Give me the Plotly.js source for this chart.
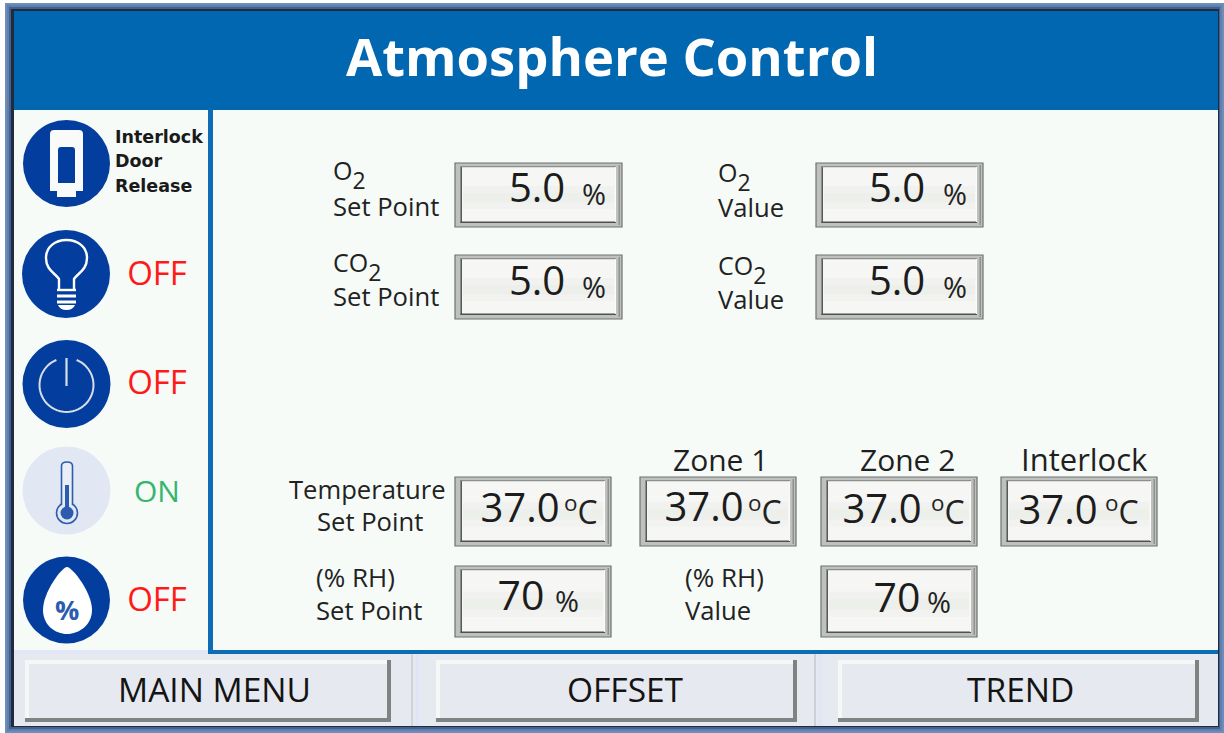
<!DOCTYPE html>
<html>
<head>
<meta charset="utf-8">
<script src="https://cdn.plot.ly/plotly-3.0.1.min.js"></script>
<style>html,body{margin:0;padding:0;background:#fff;overflow:hidden}#chart{width:1224px;height:733px}</style>
</head>
<body>
<div id="chart"></div>
<script>
// ---- content ----
const screenTitle = 'Atmosphere Control';
const readoutValues = ['5.0','5.0','5.0','5.0','37.0','37.0','37.0','37.0','70','70'];
const readoutUnits  = ['%','%','%','%','<sup>o</sup>C','<sup>o</sup>C','<sup>o</sup>C','<sup>o</sup>C','%','%'];
const statusTexts  = ['OFF','OFF','ON','OFF'];
const statusColors = ['#ff1a1a','#ff1a1a','#35b56e','#ff1a1a'];
const buttonLabels = ['MAIN MENU','OFFSET','TREND'];
const zoneLabels   = ['Zone 1','Zone 2','Interlock'];
const doorLines    = ['Interlock','Door','Release'];

// ---- layout geometry (screen pixels) ----
const boxes = [[455,622,163,227],[816,983,163,227],[455,622,255,319],[816,983,255,319],
  [455,611,477,546],[640,796,477,546],[821,977,477,546],[1001,1157,477,546],[455,611,566,637],[821,977,566,637]];
const valuePos = [[537,192],[897,192],[537,285],[897,285],[520,512],[704,511],[882,513],[1058,514],[521,600],[897,602]];
const unitPos  = [[594,193],[955,193],[594,286],[955,286],[581,510],[765,510],[948,510],[1122,510],[567,600],[939,601]];
const valueSize = [40,40,40,40,40,40,40,40,41,41];
const unitSize  = [29,29,29,29,32,32,32,32,29,29];
const statusPos = [277,386,494,603];
const statusSize = [33,33,30,33];
const buttonBoxes = [[25,391],[436,797],[838,1199]];
const zoneX = [720,907,1084];
const doorY = [137,161,186];

const shapes = [];
function rect(x0,x1,y0,y1,fill,line){shapes.push({type:'rect',xref:'x',yref:'y',x0,x1,y0,y1,fillcolor:fill,line:line||{width:0},layer:'below'});}
function seg(x0,y0,x1,y1,color,width){shapes.push({type:'line',xref:'x',yref:'y',x0,y0,x1,y1,line:{color,width},layer:'below'});}
function circ(cx,cy,r,fill,line){shapes.push({type:'circle',xref:'x',yref:'y',x0:cx-r,x1:cx+r,y0:cy-r,y1:cy+r,fillcolor:fill,line:line||{width:0},layer:'below'});}
function path(d,fill,line){shapes.push({type:'path',xref:'x',yref:'y',path:d,fillcolor:fill,line:line||{width:0},layer:'below'});}

// window frame
rect(5,1224,3,733,'#6d8dba');
rect(7,1222,5,731,'#5f80ae');
rect(9,1220,7,729,'#42618c');
rect(11,1219,9,727,'#1f2c3f');
// panels
rect(14,1218,11,726,'#e6e9f0');
rect(14,1218,11,110,'#0067b0');
rect(14,1218,110,650,'#f6fbf8');
rect(14,208,650,654,'#e2e6f6');
rect(208,213,110,654,'#0a6db5');
rect(208,1218,650,654,'#0a6db5');
// button strip separators
seg(412,654,412,726,'#c9ccd2',1.5); seg(417,654,417,726,'#dfe4f6',3);
seg(815,654,815,726,'#c4c7cc',1.5); seg(820,654,820,726,'#dfe4f6',3);

// buttons
buttonBoxes.forEach(b=>{
  rect(b[0],b[1],660,722,'#7f8381');
  rect(b[0],b[1]-4,660,718,'#f4f8f6');
  rect(b[0]+4,b[1]-4,664,718,'#e6e9f0');
});

// readout boxes
boxes.forEach(b=>{
  const [x0,x1,y0,y1]=b, h=y1-y0;
  rect(x0,x1,y0,y1,'#bfc1bf',{color:'#6f726f',width:1.2});
  rect(x0+6,x1-6,y0+4,y1-4,'#f6f7f5');
  rect(x0+5.5,x0+7,y0+3,y1-4,'#56595a');
  rect(x0+5.5,x1-6,y0+3,y0+4.2,'#8b8e8b');
  rect(x0+5.5,x1-6,y1-5.5,y1-4,'#4f5250');
  rect(x0+8,x1-8,y0+h*0.36,y0+h*0.46,'#f1f2ef');
  rect(x0+8,x1-8,y0+h*0.46,y0+h*0.62,'#edefeb');
  rect(x0+8,x1-8,y0+h*0.62,y0+h*0.72,'#f2f3f0');
  rect(x1-7,x1-6,y0+4,y1-5,'#fbfbfa');
  rect(x1-3.5,x1-2,y0+2,y1-2,'#8e918e');
});

// status icons
const iconBlue='#033e9e';
circ(66.5,163.5,43.5,iconBlue);
path('M50 134 Q50 130 54 130 L79 130 Q83 130 83 134 L83 191 L76 191 L76 197 L57 197 L57 191 L50 191 Z','#f8fbfa');
path('M58 150 Q58 147 61 147 L72 147 Q75 147 75 150 L75 183 L58 183 Z',iconBlue);

circ(66,274,44,iconBlue);
path('M59 289 L59 279 C55 273 46 270 46 258 C46 247 55 240 66.5 240 C78 240 87 247 87 258 C87 270 78 273 74 279 L74 289',iconBlue,{color:'#ffffff',width:2.4});
seg(57,290,76,290,'#ffffff',2.4);
seg(57,296,76,296,'#ffffff',3);
seg(57,302,76,302,'#ffffff',3);
path('M58 305 L75 305 Q73 310 66.5 310 Q60 310 58 305 Z','#ffffff');

circ(66.5,384,44,iconBlue);
(function(){
  let d=''; const n=48;
  for(let i=0;i<=n;i++){const a=(22+i*(316/n))*Math.PI/180; // ring with a gap at the top
    d+=(i?'L':'M')+(66.5+27*Math.sin(a)).toFixed(2)+' '+(385-27*Math.cos(a)).toFixed(2)+' ';}
  path(d,'rgba(0,0,0,0)',{color:'#d6dee9',width:2});
})();
seg(66.5,358,66.5,386,'#d6dee9',2.2);

circ(66.5,490.5,44,'#e1e8f3');
circ(67,513,10.5,'#e1e8f3',{color:'#2c5cb0',width:1.6});
path('M61.5 505 L61.5 466 Q61.5 462 67 462 Q72.5 462 72.5 466 L72.5 505','#e9eef6',{color:'#2c5cb0',width:1.6});
rect(65,69,485,510,'#2c5cb0');
circ(67,513,6.5,'#2c5cb0');

circ(66.5,600,43.5,iconBlue);
path('M67 567 C62 567 43 592 43 610 C43 625 55 634 67 634 C79 634 92 625 92 610 C92 592 72 567 67 567 Z','#ffffff');

// ---- text ----
const sans='"Open Sans", sans-serif';
const two='<sub><sub><span style="font-size:23px">2</span></sub></sub>';
const ann=[];
function txt(text,x,y,size,color,anchor,family){ann.push({text,x,y,xref:'x',yref:'y',showarrow:false,xanchor:anchor||'center',yanchor:'middle',
  font:{family:family||sans,size,color:color||'#1a1a1a'},borderpad:0,borderwidth:0});}

txt('<b>'+screenTitle+'</b>',612,55,52.5,'#ffffff');
txt('<b>%</b>',67,609,27,'#2c5cb0');
doorLines.forEach((t,i)=>txt('<b>'+t+'</b>',115,doorY[i],17.5,'#1a1a1a','left','"DejaVu Sans", sans-serif'));
buttonLabels.forEach((t,i)=>txt(t,[214,625,1020][i],689,33.5,'#141414'));
zoneLabels.forEach((t,i)=>txt(t,zoneX[i],459,[30,30,31][i],'#1f1f1f'));

txt('O'+two,333,174,25,'#222','left');
txt('Set Point',333,206,25.6,'#222','left');
txt('CO'+two,333,266,25,'#222','left');
txt('Set Point',333,296,25.6,'#222','left');
txt('O'+two,718,176,25,'#222','left');
txt('Value',718,207,25.6,'#222','left');
txt('CO'+two,718,269,25,'#222','left');
txt('Value',718,299,25.6,'#222','left');
txt('Temperature',367,489,25.6,'#222');
txt('Set Point',370,521,25.6,'#222');
txt('(% RH)',316,577,26,'#222','left');
txt('Set Point',316,610,25.6,'#222','left');
txt('(% RH)',685,577,26,'#222','left');
txt('Value',685,610,25.6,'#222','left');

readoutUnits.forEach((u,i)=>txt(u,unitPos[i][0],unitPos[i][1],unitSize[i],'#222'));

const traces=[
  {type:'scatter',mode:'text',x:valuePos.map(p=>p[0]),y:valuePos.map(p=>p[1]),text:readoutValues,
   textposition:'middle center',textfont:{family:sans,size:valueSize,color:'#1c1c1c'},hoverinfo:'skip',showlegend:false},
  {type:'scatter',mode:'text',x:statusTexts.map(()=>157),y:statusPos,text:statusTexts,
   textposition:'middle center',textfont:{family:sans,size:statusSize,color:statusColors},hoverinfo:'skip',showlegend:false}
];
const layout={
  width:1224,height:733,margin:{l:0,r:0,t:0,b:0,pad:0},
  paper_bgcolor:'#ffffff',plot_bgcolor:'rgba(0,0,0,0)',showlegend:false,
  xaxis:{range:[0,1224],visible:false,fixedrange:true},
  yaxis:{range:[733,0],visible:false,fixedrange:true},
  shapes:shapes,annotations:ann
};
Plotly.newPlot('chart',traces,layout,{displayModeBar:false,staticPlot:true});
</script>
</body>
</html>
